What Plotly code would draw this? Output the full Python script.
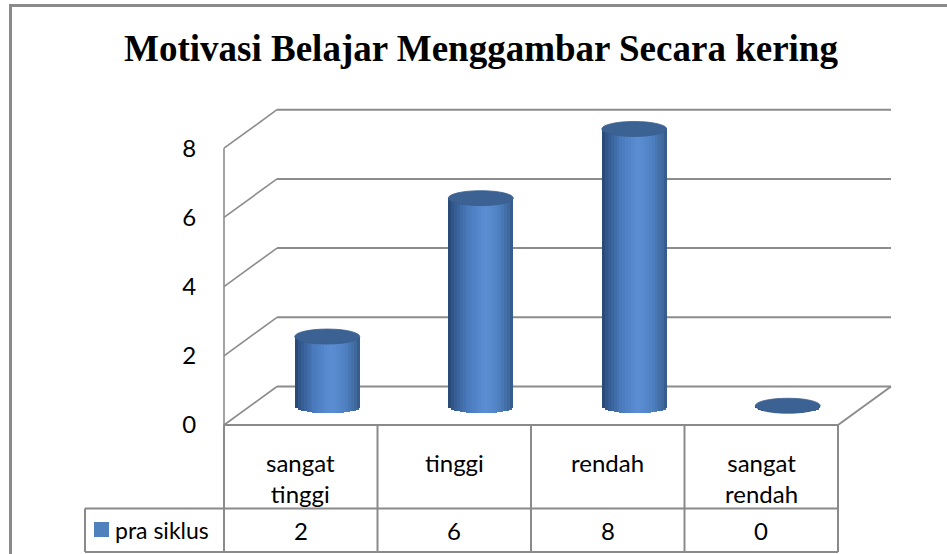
import math
import plotly.graph_objects as go

# ---------------- data ----------------
title_text = "Motivasi Belajar Menggambar Secara kering"
categories = ["sangat tinggi", "tinggi", "rendah", "sangat rendah"]
series_name = "pra siklus"
values = [2, 6, 8, 0]
y_ticks = [0, 2, 4, 6, 8]

# ---------------- geometry (pixels) ----------------
W, H = 947, 554
X0PX = 224.0      # front-left edge (x = -0.5)
UX = 153.5        # px per category
Y0PX = 425.0      # front floor (y = 0)
UY = 34.6         # px per value unit
DXPX, DYPX = 53.0, 38.5   # depth offset of back wall
PL, PR, PT, PB = 214.0, 896.0, 100.0, 440.0   # plot area box

DX = DXPX / UX
DY = DYPX / UY
BW = 65.0 / UX            # cylinder width (category units)
HE = 7.5 / UY             # ellipse half height (value units)

x_range = [-0.5 - (X0PX - PL) / UX, -0.5 + (PR - X0PX) / UX]
y_range = [-(PB - Y0PX) / UY, (Y0PX - PT) / UY]
x2_range = [x_range[0] - DX / 2, x_range[1] - DX / 2]
y2_range = [y_range[0] - DY / 2, y_range[1] - DY / 2]

def fx(px):
    return px / W

def fy(py):
    return 1 - py / H

def cat_px(b):
    return X0PX + (b + 0.5) * UX

GRID = "#8c8c8c"
LINE = "#8a8a8a"
FONT = "Lato"

# colour profile across cylinder (left -> right)
stops = [(0.0, (0x26, 0x44, 0x70)), (0.08, (0x33, 0x59, 0x8d)),
         (0.30, (0x4a, 0x7a, 0xbd)), (0.56, (0x5b, 0x8e, 0xd4)),
         (0.78, (0x4f, 0x80, 0xc2)), (0.93, (0x40, 0x69, 0x9e)),
         (1.0, (0x33, 0x57, 0x8a))]

def col(t):
    for (t0, c0), (t1, c1) in zip(stops[:-1], stops[1:]):
        if t0 <= t <= t1:
            f = (t - t0) / (t1 - t0)
            c = [round(a + (b - a) * f) for a, b in zip(c0, c1)]
            return "rgb(%d,%d,%d)" % tuple(c)
    return "rgb(%d,%d,%d)" % stops[-1][1]

fig = go.Figure()

N = 22
step = BW / N
for j in range(N):
    uc = (j + 0.5) / N
    s = 2 * uc - 1
    b = -HE * math.sqrt(max(0.0, 1 - s * s))
    c = col(uc)
    wj = step * (1.6 if j < N - 1 else 1.0)
    fig.add_trace(go.Bar(
        x=categories, y=[v - b for v in values], base=b,
        offset=-BW / 2 + j * step, width=wj,
        marker=dict(color=c, line=dict(width=0)),
        xaxis="x2", yaxis="y2", showlegend=False, hoverinfo="skip"))

shapes = []
# outer chart border
shapes.append(dict(type="rect", xref="paper", yref="paper",
                   x0=fx(10.5), x1=fx(W + 20), y0=fy(H + 20), y1=fy(5.5),
                   line=dict(color="#8a8a8a", width=3), fillcolor="rgba(0,0,0,0)"))

# 3-D frame: side wall diagonals and back wall gridlines
for v in y_ticks:
    shapes.append(dict(type="line", xref="x", yref="y", layer="below",
                       x0=-0.5, y0=v, x1=-0.5 + DX, y1=v + DY,
                       line=dict(color=GRID, width=1.6)))
    shapes.append(dict(type="line", xref="x", yref="y", layer="below",
                       x0=-0.5 + DX, y0=v + DY, x1=3.5 + DX, y1=v + DY,
                       line=dict(color=GRID, width=2)))
shapes.append(dict(type="line", xref="x", yref="y", layer="below",
                   x0=-0.5, y0=0, x1=-0.5, y1=y_ticks[-1],
                   line=dict(color=GRID, width=1.6)))
shapes.append(dict(type="line", xref="x", yref="y", layer="below",
                   x0=3.5, y0=0, x1=3.5 + DX, y1=DY,
                   line=dict(color=GRID, width=2)))

# cylinder tops
for i, v in enumerate(values):
    shapes.append(dict(type="circle", xref="x2", yref="y2", layer="above",
                       x0=i - BW / 2, x1=i + BW / 2, y0=v - HE, y1=v + HE,
                       fillcolor="#3c6294", line=dict(color="#395e8f", width=0.8)))

# data table
TT, TM, TB = Y0PX, 508.5, 552.0
LEGX = 85.0
n = len(categories)
for k in range(n + 1):
    xb = cat_px(k - 0.5)
    shapes.append(dict(type="line", xref="paper", yref="paper",
                       x0=fx(xb), x1=fx(xb), y0=fy(TT), y1=fy(TB),
                       line=dict(color=LINE, width=2)))
shapes.append(dict(type="line", xref="paper", yref="paper",
                   x0=fx(X0PX), x1=fx(cat_px(n - 0.5)), y0=fy(TT), y1=fy(TT),
                   line=dict(color=LINE, width=2)))
for yy in (TM, TB):
    shapes.append(dict(type="line", xref="paper", yref="paper",
                       x0=fx(LEGX), x1=fx(cat_px(n - 0.5)), y0=fy(yy), y1=fy(yy),
                       line=dict(color=LINE, width=2)))
shapes.append(dict(type="line", xref="paper", yref="paper",
                   x0=fx(LEGX), x1=fx(LEGX), y0=fy(TM), y1=fy(TB),
                   line=dict(color=LINE, width=2)))
# legend key
shapes.append(dict(type="rect", xref="paper", yref="paper",
                   x0=fx(94), x1=fx(109), y0=fy(537), y1=fy(522),
                   fillcolor="#4f81bd", line=dict(width=0)))

annotations = []
for i, c in enumerate(categories):
    annotations.append(dict(x=i, xref="x", y=fy(446), yref="paper",
                            text=c.replace(" ", "<br>"), showarrow=False,
                            xanchor="center", yanchor="top", align="center",
                            font=dict(family=FONT, size=24, color="#000")))
    annotations.append(dict(x=i, xref="x", y=fy(530), yref="paper",
                            text=str(values[i]), showarrow=False,
                            xanchor="center", yanchor="middle",
                            font=dict(family=FONT, size=24, color="#000")))
annotations.append(dict(x=fx(113), xref="paper", y=fy(530), yref="paper",
                        text=series_name, showarrow=False,
                        xanchor="left", yanchor="middle",
                        font=dict(family=FONT, size=23, color="#000")))

fig.update_layout(
    width=W, height=H,
    margin=dict(l=0, r=0, t=0, b=0),
    paper_bgcolor="white", plot_bgcolor="rgba(0,0,0,0)",
    barmode="overlay", bargap=0,
    showlegend=False,
    title=dict(text="<b>" + title_text + "</b>", x=fx(481), xanchor="center",
               y=fy(48), yanchor="middle",
               font=dict(family="Liberation Serif", size=37, color="#000")),
    xaxis=dict(domain=[fx(PL), fx(PR)], range=x_range, visible=False, fixedrange=True),
    yaxis=dict(domain=[fy(PB), fy(PT)], range=y_range, showgrid=False,
               zeroline=False, showline=False, tickvals=y_ticks,
               ticktext=[str(t) for t in y_ticks], ticks="outside", ticklen=12,
               tickcolor="rgba(0,0,0,0)",
               tickfont=dict(family=FONT, size=24, color="#000")),
    xaxis2=dict(overlaying="x", anchor="y2", type="category",
                categoryorder="array", categoryarray=categories,
                range=x2_range, visible=False),
    yaxis2=dict(overlaying="y", anchor="x2", range=y2_range, visible=False),
    shapes=shapes, annotations=annotations,
)

fig.write_html("out.html", config={"displayModeBar": False},
               post_script="document.body.style.margin='0';document.body.style.overflow='hidden';")
